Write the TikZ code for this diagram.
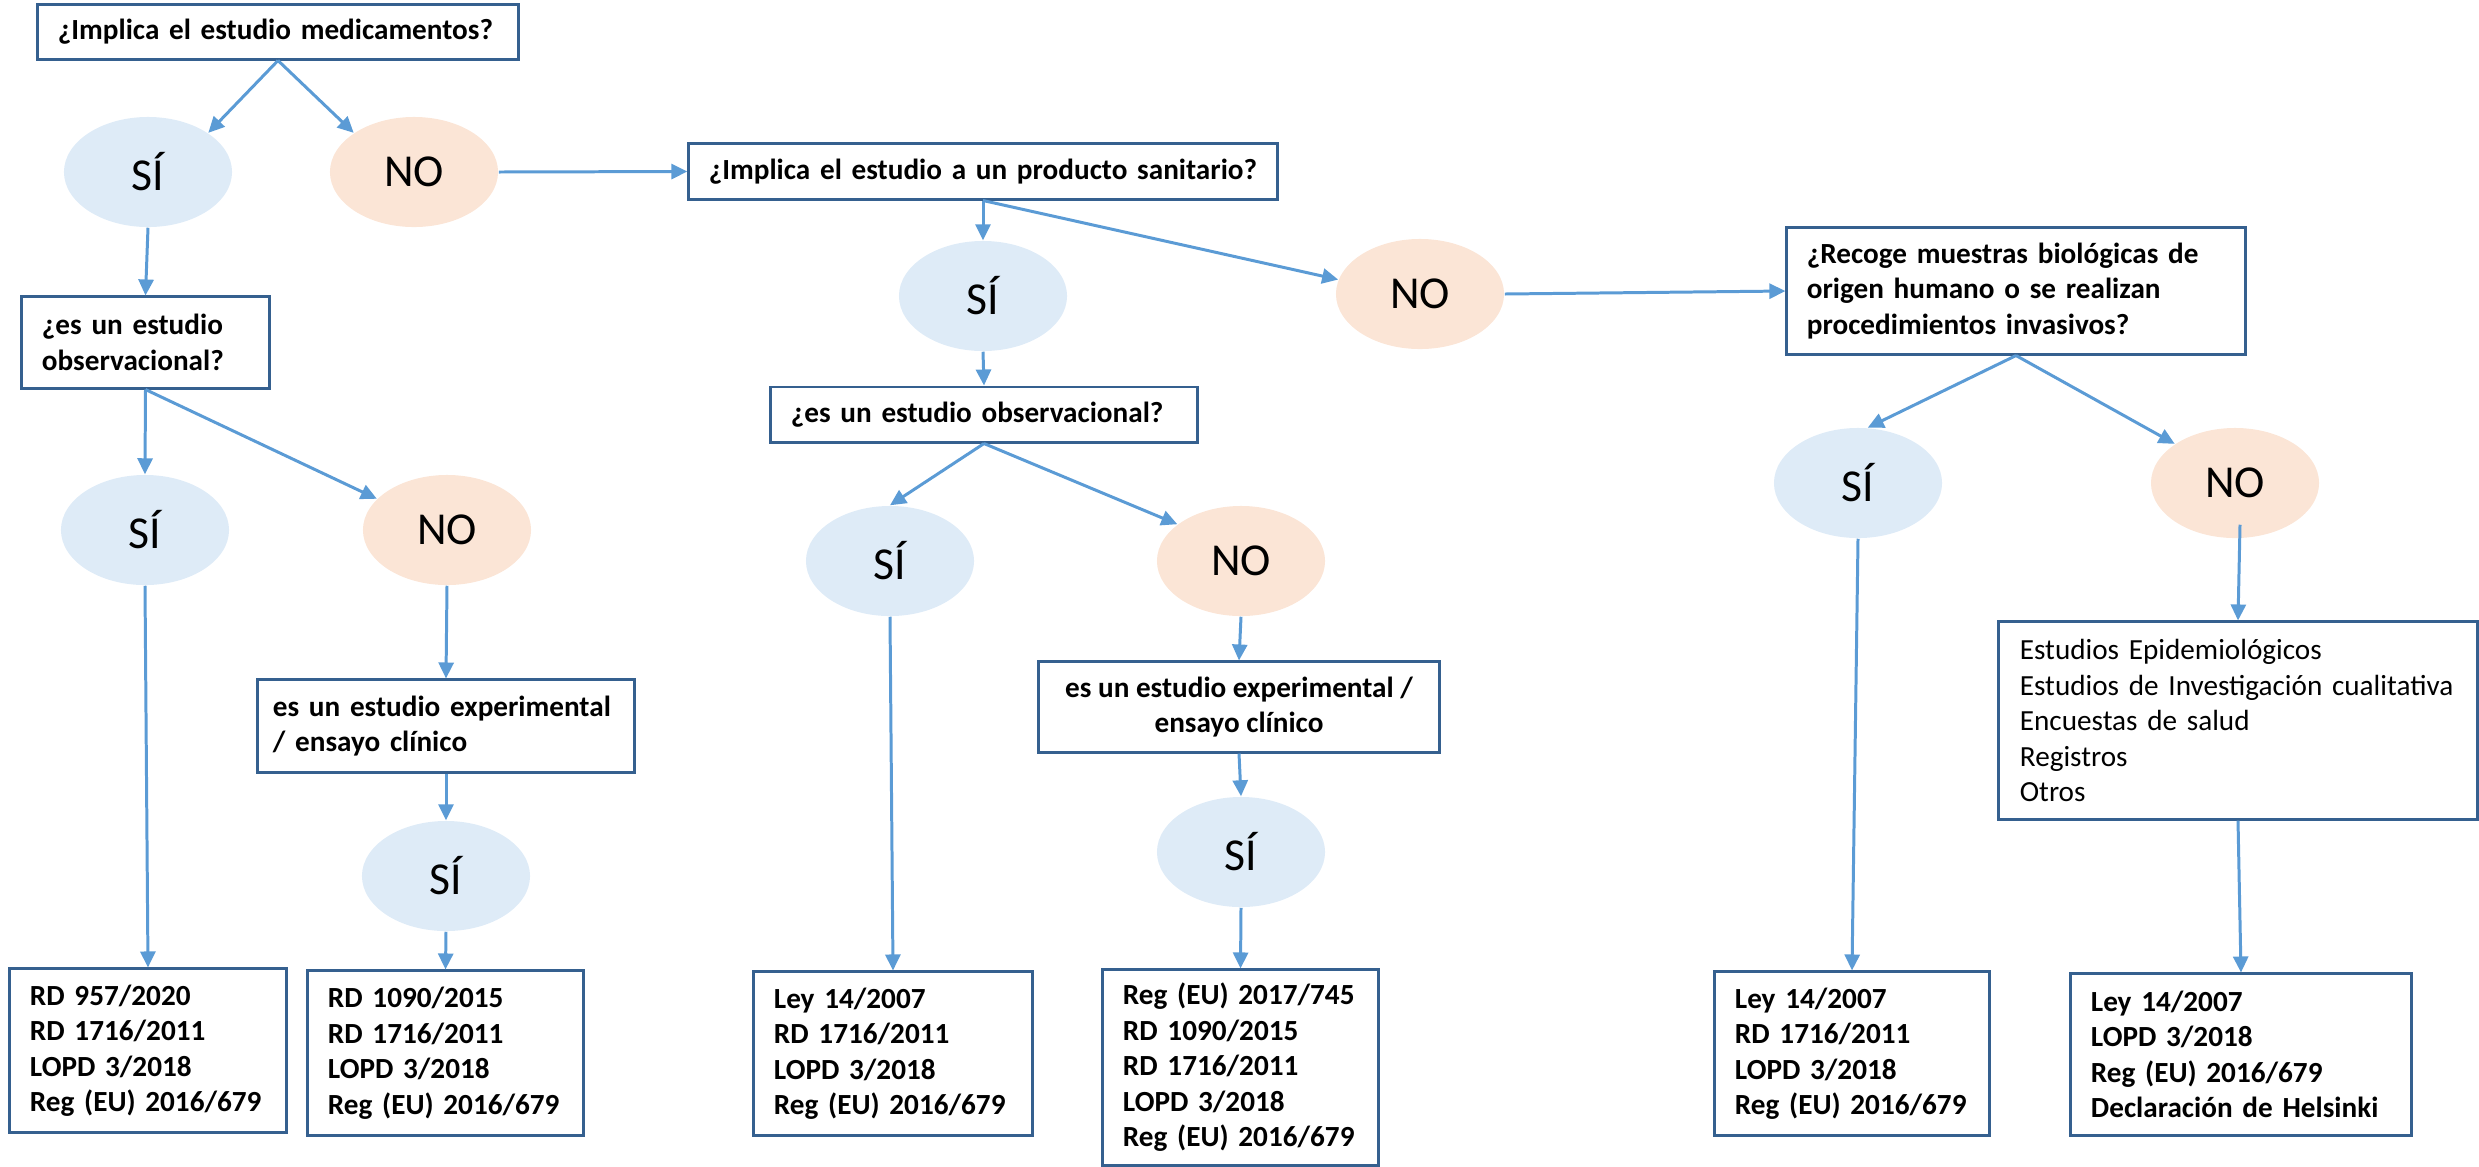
\documentclass[tikz,border=0pt]{standalone}
\usepackage{fontspec}
\setmainfont{Carlito}
\usetikzlibrary{shapes.geometric,arrows.meta,calc}
\definecolor{boxc}{HTML}{35608F}
\definecolor{arrc}{HTML}{5B9BD5}
\definecolor{sifill}{HTML}{DEEBF7}
\definecolor{nofill}{HTML}{FBE5D6}
\begin{document}
\begin{tikzpicture}[x=0.01cm,y=-0.01cm,
  qbox/.style={draw=boxc, line width=0.85pt, font=\fontsize{8.3}{10.1}\selectfont\bfseries, align=left, inner xsep=0.2cm, inner ysep=0pt},
  lbox/.style={qbox, font=\fontsize{8.3}{10.1}\selectfont},
  oval/.style={ellipse, inner sep=0pt, minimum width=1.68cm, minimum height=1.10cm, font=\fontsize{13}{15}\selectfont},
  si/.style={oval, fill=sifill},
  no/.style={oval, fill=nofill},
  arr/.style={draw=arrc, line width=0.85pt, -{Triangle[length=0.16cm,width=0.15cm]}}
]
\useasboundingbox (0,0) rectangle (2479,1166);

% column 1
\node[qbox, text width=4.40cm, minimum height=0.54cm] (b1) at (278,32) {¿Implica el estudio medicamentos?};
\node[si] (si1) at (148,172) {SÍ};
\node[no] (no1) at (414,172) {NO};
\node[qbox, text width=2.07cm, minimum height=0.91cm] (b3) at (145.5,342.5) {¿es un estudio\\observacional?};
\node[si] (si2) at (145,530) {SÍ};
\node[no] (no2) at (447,530) {NO};
\node[qbox, inner xsep=0.15cm, text width=3.46cm, minimum height=0.92cm] (e1) at (446,726) {es un estudio experimental\\/ ensayo clínico};
\node[si] (si3) at (446,876) {SÍ};
\node[qbox, text width=2.36cm, minimum height=1.63cm] (l1) at (148,1050.5) {RD 957/2020\\RD 1716/2011\\LOPD 3/2018\\Reg (EU) 2016/679};
\node[qbox, text width=2.35cm, minimum height=1.64cm] (l2) at (445.5,1053) {RD 1090/2015\\RD 1716/2011\\LOPD 3/2018\\Reg (EU) 2016/679};

% column 2
\node[qbox, text width=5.48cm, minimum height=0.55cm] (b2) at (983,171.5) {¿Implica el estudio a un producto sanitario?};
\node[si] (si4) at (983,296) {SÍ};
\node[no] (no3) at (1420,294) {NO};
\node[qbox, text width=3.86cm, minimum height=0.55cm] (b4) at (984,414.5) {¿es un estudio observacional?};
\node[si] (si5) at (890,561) {SÍ};
\node[no] (no4) at (1241,561) {NO};
\node[qbox, align=center, inner xsep=0.1cm, minimum width=4.00cm, minimum height=0.90cm] (e2) at (1239,707) {es un estudio experimental /\\ensayo clínico};
\node[si] (si6) at (1241,852) {SÍ};
\node[qbox, text width=2.38cm, minimum height=1.63cm] (l3) at (893,1053.5) {Ley 14/2007\\RD 1716/2011\\LOPD 3/2018\\Reg (EU) 2016/679};
\node[qbox, text width=2.35cm, minimum height=1.95cm] (l4) at (1240.5,1067.5) {Reg (EU) 2017/745\\RD 1090/2015\\RD 1716/2011\\LOPD 3/2018\\Reg (EU) 2016/679};

% column 3
\node[qbox, text width=4.18cm, minimum height=1.26cm] (b5) at (2016,291) {¿Recoge muestras biológicas de\\origen humano o se realizan\\procedimientos invasivos?};
\node[si] (si7) at (1858,483) {SÍ};
\node[no] (no5) at (2235,483) {NO};
\node[lbox, inner xsep=0.21cm, text width=4.36cm, minimum height=1.97cm] (lst) at (2238,720.5) {Estudios Epidemiológicos\\Estudios de Investigación cualitativa\\Encuestas de salud\\Registros\\Otros};
\node[qbox, text width=2.34cm, minimum height=1.63cm] (l5) at (1852,1053.5) {Ley 14/2007\\RD 1716/2011\\LOPD 3/2018\\Reg (EU) 2016/679};
\node[qbox, text width=3.00cm, minimum height=1.61cm] (l6) at (2241,1054.5) {Ley 14/2007\\LOPD 3/2018\\Reg (EU) 2016/679\\Declaración de Helsinki};

% connectors
\draw[arr] (b1.south) -- (si1.33);
\draw[arr] (b1.south) -- (no1.147);
\draw[arr] (no1.east) -- (b2.west);
\draw[arr] (si1.south) -- (b3.north);
\draw[arr] (b3.south) -- (si2.north);
\draw[arr] (b3.south) -- (no2.156);
\draw[arr] (si2.south) -- (l1.north);
\draw[arr] (no2.south) -- (e1.north);
\draw[arr] (e1.south) -- (si3.north);
\draw[arr] (si3.south) -- (l2.north);

\draw[arr] (b2.south) -- (si4.north);
\draw[arr] (b2.south) -- (no3.170);
\draw[arr] (no3.east) -- (b5.west);
\draw[arr] (si4.south) -- (b4.north);
\draw[arr] (b4.south) -- (si5.north);
\draw[arr] (b4.south) -- (no4.150);
\draw[arr] (si5.south) -- (l3.north);
\draw[arr] (no4.south) -- (e2.north);
\draw[arr] (e2.south) -- (si6.north);
\draw[arr] (si6.south) -- (l4.north);

\draw[arr] (b5.south) -- (si7.80);
\draw[arr] (b5.south) -- (no5.147);
\draw[arr] (si7.south) -- (l5.north);
\draw[arr] ($(no5.south)+(5,-14)$) -- (lst.north);
\draw[arr] (lst.south) -- (l6.north);
\end{tikzpicture}
\end{document}
